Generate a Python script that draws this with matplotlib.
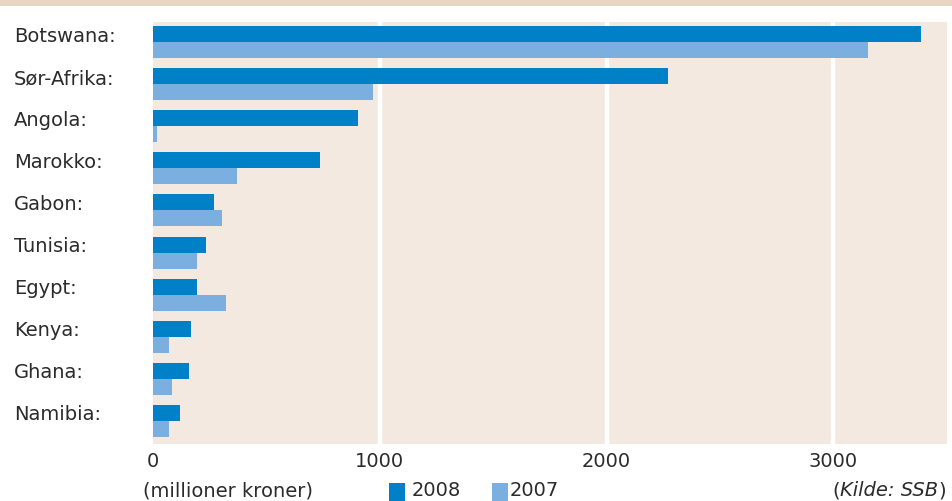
import matplotlib
matplotlib.use("Agg")
import matplotlib.pyplot as plt
import numpy as np
from matplotlib.patches import Rectangle

# ---- data (millioner kroner) ----
countries = ["Botswana:", "Sør-Afrika:", "Angola:", "Marokko:", "Gabon:",
             "Tunisia:", "Egypt:", "Kenya:", "Ghana:", "Namibia:"]
v2008 = [3385, 2270, 905, 735, 268, 234, 195, 168, 160, 120]
v2007 = [3155, 970, 18, 370, 304, 194, 322, 71, 84, 71]
ticks = [0, 1000, 2000, 3000]

C08 = "#0080C6"
C07 = "#7BAFE0"
BG = "#F3E9E1"
BAND = "#E8D5C4"
TXT = "#2B2B2B"

plt.rcParams.update({"font.family": "DejaVu Sans", "font.size": 14})

W, H = 952, 501
fig = plt.figure(figsize=(W / 100, H / 100), dpi=100)
fig.patch.set_facecolor("white")

# top band
fig.patches.append(Rectangle((0, 1 - 6 / H), 1, 6 / H, transform=fig.transFigure,
                             facecolor=BAND, edgecolor="none"))

L, R, T, B = 153, 946.7, 22, 443.7
ax = fig.add_axes([L / W, 1 - B / H, (R - L) / W, (B - T) / H])
ax.set_facecolor(BG)

y = np.arange(len(countries))
bh = 16 / 42
ax.barh(y - bh / 2, v2008, height=bh, color=C08, zorder=3)
ax.barh(y + bh / 2, v2007, height=bh, color=C07, zorder=3)

ax.set_xlim(0, 3500)
ax.set_ylim(len(countries) - 1 + 22.7 / 42, -20 / 42)
for t in ticks[1:]:
    ax.axvline(t, color="white", lw=3.2, zorder=2)

for s in ax.spines.values():
    s.set_visible(False)
ax.set_yticks([])
ax.set_xticks(ticks)
ax.set_xticklabels([str(t) for t in ticks], color=TXT)
ax.tick_params(axis="x", length=0, pad=6)

# country labels, left aligned
for i, c in enumerate(countries):
    fig.text(14 / W, 1 - (42 + 42 * i - 5) / H, c, ha="left", va="center",
             color=TXT, fontsize=14)

# footer row
fy = 1 - 491 / H
fig.text(143 / W, fy, "(millioner kroner)", ha="left", va="center", color=TXT)
fig.patches.append(Rectangle((389 / W, 0), 16 / W, 18 / H, transform=fig.transFigure,
                             facecolor=C08, edgecolor="none"))
fig.text(412 / W, fy, "2008", ha="left", va="center", color=TXT)
fig.patches.append(Rectangle((492 / W, 0), 16 / W, 18 / H, transform=fig.transFigure,
                             facecolor=C07, edgecolor="none"))
fig.text(510 / W, fy, "2007", ha="left", va="center", color=TXT)

# (Kilde: SSB) with italic inner text
r = fig.canvas.get_renderer()
t1 = fig.text(946 / W, fy, ")", ha="right", va="center", color=TXT)
w1 = t1.get_window_extent(r).width
t2 = fig.text((946 - w1) / W, fy, "Kilde: SSB", ha="right", va="center",
              color=TXT, style="italic")
w2 = t2.get_window_extent(r).width
fig.text((946 - w1 - w2) / W, fy, "(", ha="right", va="center", color=TXT)

fig.savefig("out.png", dpi=100, facecolor="white")
